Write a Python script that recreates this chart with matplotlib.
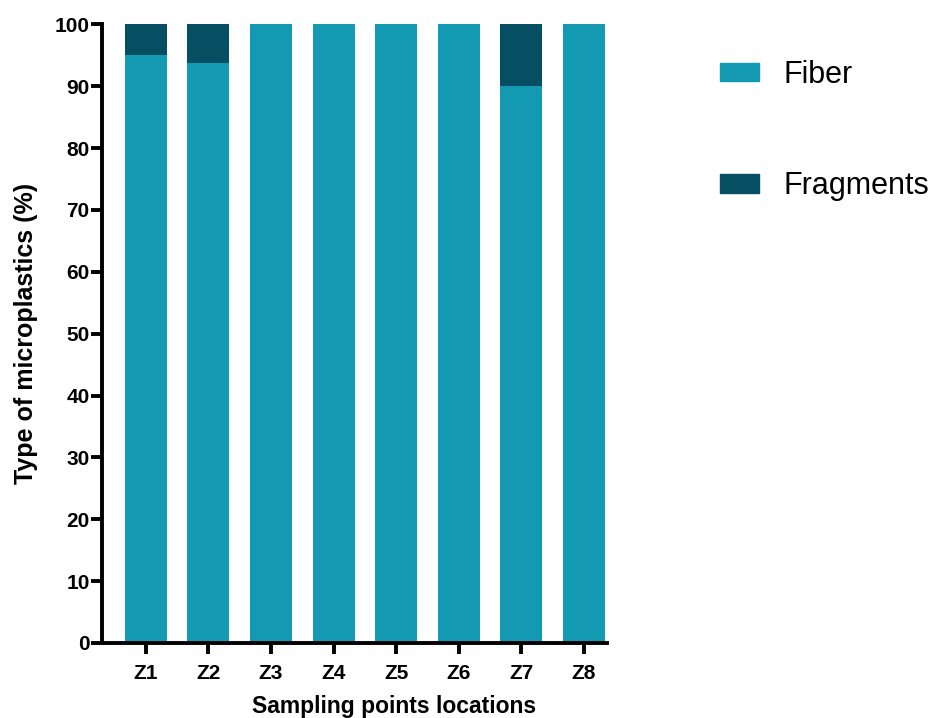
import numpy as np
import matplotlib.pyplot as plt
from matplotlib.patches import Patch

# Microplastic types per sampling point (%)
sites = ['Z1', 'Z2', 'Z3', 'Z4', 'Z5', 'Z6', 'Z7', 'Z8']
fiber = [95, 93.75, 100, 100, 100, 100, 90, 100]
fragments = [5, 6.25, 0, 0, 0, 0, 10, 0]

fiber_col = '#1499b3'
frag_col = '#064f63'

plt.rcParams['font.family'] = ['Liberation Sans', 'DejaVu Sans']

fig = plt.figure(figsize=(9.3, 7.18), dpi=100)
ax = fig.add_axes([0.1097, 0.1045, 0.543, 0.8615])

x = np.arange(len(sites))
ax.bar(x, fiber, width=0.67, color=fiber_col)
ax.bar(x, fragments, width=0.67, bottom=fiber, color=frag_col)

ax.set_xlim(-0.7, 7.37)
ax.set_ylim(0, 100)
ax.set_yticks(np.arange(0, 101, 10))
ax.set_xticks(x)
ax.set_xticklabels(sites)

for s in ['top', 'right']:
    ax.spines[s].set_visible(False)
for s in ['left', 'bottom']:
    ax.spines[s].set_linewidth(2.8)
ax.tick_params(axis='both', width=2.8, length=8, labelsize=15)
ax.tick_params(axis='y', pad=1)
ax.tick_params(axis='x', pad=7)
for lab in ax.get_xticklabels() + ax.get_yticklabels():
    lab.set_fontweight('bold')

ax.set_xlabel('Sampling points locations', fontsize=16.5, fontweight='bold', labelpad=9, x=0.578)
ax.set_ylabel('Type of microplastics (%)', fontsize=18, fontweight='bold', labelpad=12)

handles = [Patch(color=fiber_col, label='Fiber'), Patch(color=frag_col, label='Fragments')]
fig.legend(handles=handles, loc='upper left', bbox_to_anchor=(0.745, 0.955),
           frameon=False, fontsize=22, handlelength=1.27, handleheight=0.55,
           labelspacing=2.67, handletextpad=0.8)

fig.savefig('out.png', dpi=100)
